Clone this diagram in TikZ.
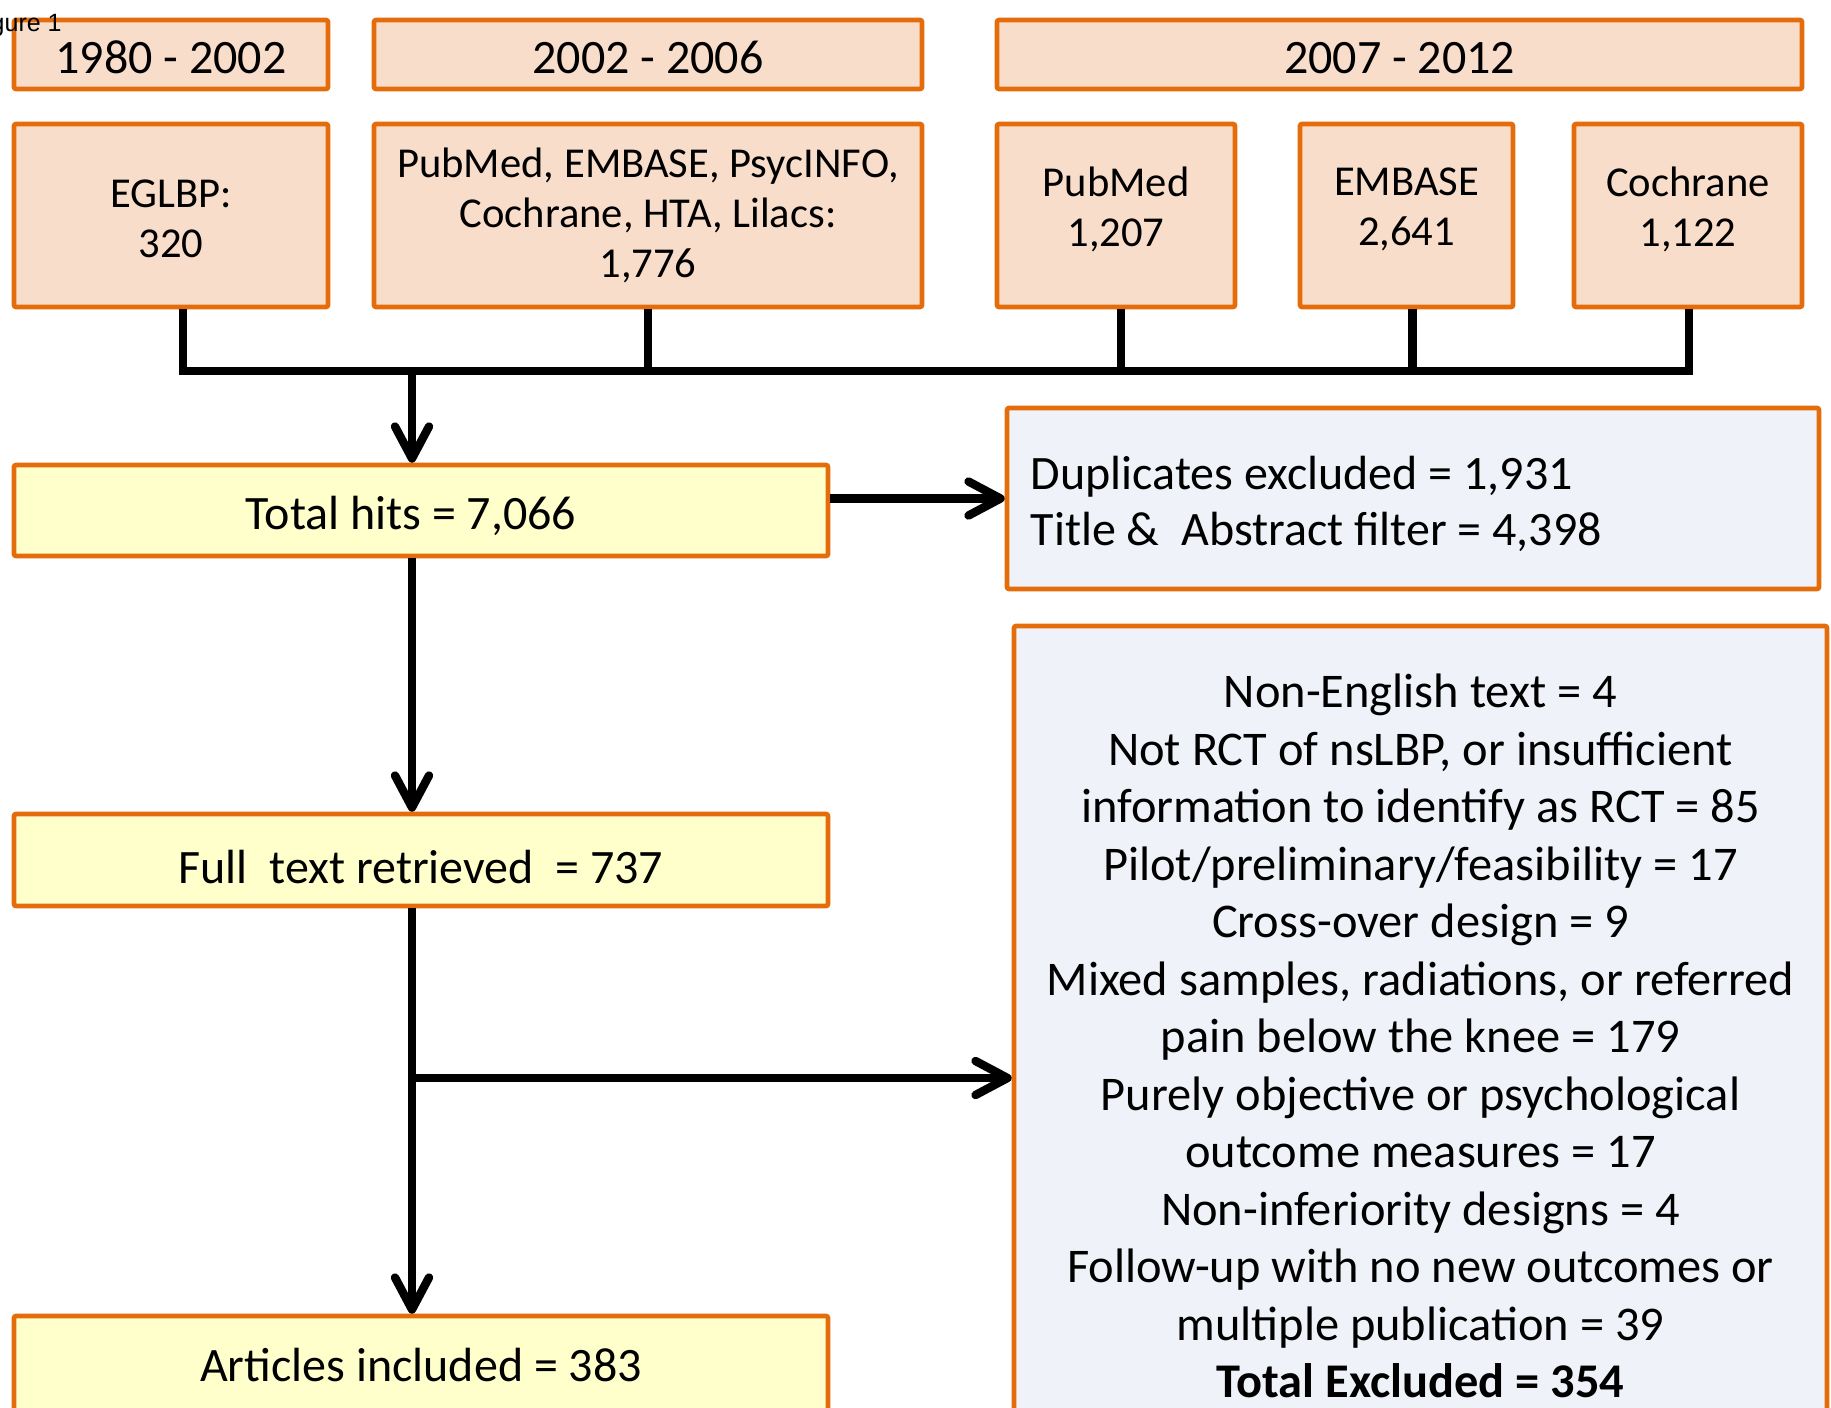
\documentclass[tikz,border=0pt]{standalone}
\usepackage{fontspec}
\setmainfont{Carlito}
\newfontfamily\figfont{Liberation Sans}
\usetikzlibrary{arrows.meta,calc}
\definecolor{boxorange}{HTML}{E46C0A}
\definecolor{peach}{HTML}{F9DDCB}
\definecolor{paleyellow}{HTML}{FFFFCC}
\definecolor{palegray}{HTML}{EFF2F8}
\begin{document}
\begin{tikzpicture}[x=0.5pt,y=-0.5pt,
  box/.style={draw=boxorange, line width=2.3pt, rectangle, inner sep=0pt, align=center, rounded corners=1pt},
  period/.style={box, fill=peach, minimum height=34.5pt, text height=18.7pt, text depth=0pt, font=\fontsize{24}{29}\selectfont},
  source/.style={box, fill=peach, minimum height=91.5pt, font=\fontsize{21.3}{25}\selectfont},
  srctext/.style={inner sep=0pt, align=center, font=\fontsize{21.3}{25}\selectfont},
  flow/.style={box, fill=paleyellow, minimum width=407pt, font=\fontsize{24}{29}\selectfont},
  excl/.style={box, fill=palegray},
  conn/.style={line width=4.2pt, black},
  arr/.style={conn, -{Straight Barb[length=16pt,width=17pt,round]}}
]
\useasboundingbox (0,0) rectangle (1831,1408);
\clip (0,0) rectangle (1831,1408);

% period headers
\node[period, minimum width=157pt] (per1) at (171,54.5) {1980 - 2002};
\node[period, minimum width=274pt] (per2) at (648,54.5) {2002 - 2006};
\node[period, minimum width=402.5pt] (per3) at (1399.5,54.5) {2007 - 2012};

% sources
\node[source, minimum width=157pt] (eglbp) at (171,215.5) {};
\node[srctext] (eglbpT) at ([yshift=-1.75pt]eglbp.center) {EGLBP:\\320};
\node[source, minimum width=274pt] (multi) at (648,215.5) {PubMed, EMBASE, PsycINFO,\\Cochrane, HTA, Lilacs:\\1,776};
\node[source, minimum width=119pt] (pubmed) at (1116,215.5) {};
\node[srctext] (pubmedT) at ([yshift=3pt]pubmed.center) {PubMed\\1,207};
\node[source, minimum width=106.5pt] (embase) at (1406.5,215.5) {};
\node[srctext] (embaseT) at ([yshift=3pt]embase.center) {EMBASE\\2,641};
\node[source, minimum width=114pt] (cochrane) at (1688,215.5) {};
\node[srctext] (cochraneT) at ([yshift=3pt]cochrane.center) {Cochrane\\1,122};

% flow boxes
\node[flow, minimum height=45.5pt, text height=18.8pt, text depth=0pt] (total) at (421,510.5) {Total hits = 7,066\hspace*{10pt}};
\node[flow, minimum height=46pt, text height=23pt, text depth=0pt] (full) at (421,860) {Full\ \ text retrieved\ \ = 737};
\node[flow, minimum height=49pt] (articles) at (421,1365) {Articles included = 383};

% exclusion boxes
\node[excl, minimum width=406pt, minimum height=90.5pt] (dup) at (1413,498.5) {};
\node[inner sep=0pt, anchor=west, align=left, font=\fontsize{24}{28}\selectfont] (dupT) at ([xshift=12.8pt,yshift=-2.75pt]dup.west)
  {Duplicates excluded = 1,931\\Title \&\ \ Abstract filter = 4,398};
\node[excl, minimum width=406.5pt, minimum height=410pt, font=\fontsize{24.2}{28.75}\selectfont] (excluded) at (1420.5,1036)
  {Non-English text = 4\\
   Not RCT of nsLBP, or insufficient\\
   information to identify as RCT = 85\\
   Pilot/preliminary/feasibility = 17\\
   Cross-over design = 9\\
   Mixed samples, radiations, or referred\\
   pain below the knee = 179\\
   Purely objective or psychological\\
   outcome measures = 17\\
   Non-inferiority designs = 4\\
   Follow-up with no new outcomes or\\
   multiple publication = 39\\
   \textbf{Total Excluded = 354}};

% bus
\coordinate (busL) at (183,371);
\coordinate (busR) at (1689,371);
\coordinate (spine) at (412,371);
\coordinate (branch) at (412,1078);

\draw[conn, line join=miter] (eglbp.south -| busL) -- (busL) -- (busR) -- (cochrane.south -| busR);
\draw[conn] (multi.south) -- (multi.south |- busL);
\draw[conn] ([xshift=2.5pt]pubmed.south) -- ([xshift=2.5pt]pubmed.south |- busL);
\draw[conn] ([xshift=3pt]embase.south) -- ([xshift=3pt]embase.south |- busL);

\draw[arr] (spine) -- (spine |- total.north);
\draw[arr] (total.east |- dup.west) -- (dup.west);
\draw[arr] (spine |- total.south) -- (spine |- full.north);
\draw[arr] (branch) -- (branch -| excluded.west);
\draw[arr] (spine |- full.south) -- (spine |- articles.north);

\node[font=\figfont\fontsize{12.5}{14}\selectfont, anchor=base east, inner sep=0pt] (figlabel) at (62,32) {Figure 1};
\end{tikzpicture}
\end{document}
